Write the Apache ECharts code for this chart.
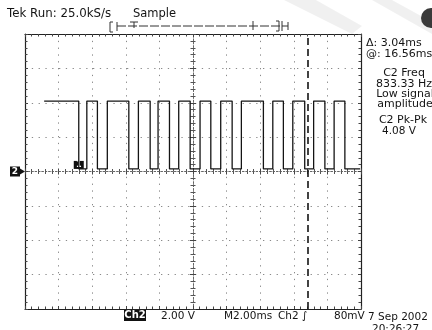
<!DOCTYPE html>
<html>
<head>
<meta charset="utf-8">
<script src="https://cdn.jsdelivr.net/npm/echarts@6/dist/echarts.min.js"></script>
<style>
  html, body { margin: 0; padding: 0; background: #fff; }
  #c { width: 432px; height: 330px; }
</style>
</head>
<body>
<div id="c"></div>
<script>
// Channel 2 trace: times in ms relative to the screen centre, levels in volts
const fallTimes = [-6.80, -5.69, -3.82, -2.55, -1.40, -0.17, 1.06, 2.33, 4.19, 5.38, 6.65, 7.85, 9.04];
const riseTimes = [-6.32, -5.10, -3.25, -2.08, -0.85, 0.42, 1.65, 2.88, 4.75, 5.94, 7.18, 8.40];
const traceStart = -8.86;
const traceEnd = 9.95;
const highVolts = 4.10;
const lowVolts = 0.15;
const cursorTime = 6.85;

// Screen: 10 horizontal divisions of 2 ms, 8 vertical divisions of 2 V
const timeRange = [-10, 10];
const voltRange = [-8, 8];
const timePerDiv = 2;
const voltsPerDiv = 2;

// Readouts
const headerLeft = 'Tek Run: 25.0kS/s';
const headerMode = 'Sample';
const cursorReadouts = ['Δ: 3.04ms', '@: 16.56ms'];
const measureLines = ['C2 Freq', '833.33 Hz', 'Low signal', 'amplitude'];
const pkpkLines = ['C2 Pk-Pk', '4.08 V'];
const footer = { ch: 'Ch2', scale: '2.00 V', time: 'M2.00ms', trig: 'Ch2 ∫', level: '80mV', date: '7 Sep 2002', clock: '20:26:27' };

// Build the stepped trace from the edge times
const trace = [[traceStart, highVolts]];
fallTimes.forEach((tf, i) => {
  trace.push([tf, highVolts], [tf, lowVolts]);
  if (i < riseTimes.length) trace.push([riseTimes[i], lowVolts], [riseTimes[i], highVolts]);
});
trace.push([traceEnd, lowVolts]);

const ink = '#141414';
const FONT = '"DejaVu Sans", sans-serif';

function baseAxis(range, step) {
  return { type: 'value', min: range[0], max: range[1], interval: step, axisLabel: { show: false }, splitLine: { show: false } };
}
function borderAxis(range, step, pos, withGrid) {
  return Object.assign(baseAxis(range, step), {
    position: pos,
    axisLine: { show: true, onZero: false, lineStyle: { color: '#222', width: 1.2 } },
    axisTick: { show: true, inside: true, length: 3, lineStyle: { color: '#444' } },
    minorTick: { show: true, splitNumber: 5, length: 2.5, lineStyle: { color: '#444' } },
    splitLine: { show: withGrid, lineStyle: { color: '#8a8a8a', width: 1, type: [1.3, 5.5] } }
  });
}
function centreAxis(range, step, pos) {
  return Object.assign(baseAxis(range, step), {
    position: pos,
    axisLine: { show: true, onZero: true, onZeroAxisIndex: 0, lineStyle: { color: '#666', width: 1, type: [1.3, 2.1] } },
    axisTick: { show: true, inside: true, length: 3, lineStyle: { color: '#444' } },
    minorTick: { show: true, splitNumber: 5, length: 2.5, lineStyle: { color: '#555' } }
  });
}

const chart = echarts.init(document.getElementById('c'), null, { renderer: 'canvas' });

chart.setOption({
  animation: false,
  backgroundColor: '#fff',
  grid: { left: 25, right: 71, top: 34, bottom: 21 },
  xAxis: [
    borderAxis(timeRange, timePerDiv, 'bottom', true),
    borderAxis(timeRange, timePerDiv, 'top', false),
    centreAxis(timeRange, timePerDiv, 'bottom'),
    centreAxis(timeRange, timePerDiv, 'top')
  ],
  yAxis: [
    borderAxis(voltRange, voltsPerDiv, 'left', true),
    borderAxis(voltRange, voltsPerDiv, 'right', false),
    centreAxis(voltRange, voltsPerDiv, 'left'),
    centreAxis(voltRange, voltsPerDiv, 'right')
  ],
  series: [{
    type: 'line',
    xAxisIndex: 0,
    yAxisIndex: 0,
    data: trace,
    symbol: 'none',
    lineStyle: { color: ink, width: 1.3 },
    markLine: {
      silent: true,
      symbol: 'none',
      label: { show: false },
      lineStyle: { color: ink, width: 1.6, type: [7, 4] },
      data: [{ xAxis: cursorTime }]
    }
  }]
});

function txt(text, x, y, size, opts) {
  return {
    type: 'text', silent: true,
    style: Object.assign({ text: text, x: x, y: y, font: size + 'px ' + FONT, fill: ink, align: 'left', verticalAlign: 'middle' }, opts || {})
  };
}
function seg(x1, y1, x2, y2, w, dash) {
  return { type: 'line', silent: true, shape: { x1: x1, y1: y1, x2: x2, y2: y2 }, style: { stroke: '#333', lineWidth: w || 1, lineDash: dash || null } };
}

const gnd = chart.convertToPixel({ gridIndex: 0 }, [timeRange[0], 0]);
const refMark = chart.convertToPixel({ gridIndex: 0 }, [fallTimes[0], lowVolts]);

const elements = [
  // soft glare across the top right
  { type: 'polygon', silent: true, z: -1, shape: { points: [[284, 0], [316, 0], [362, 26], [352, 34]] }, style: { fill: 'rgba(0,0,0,0.06)' } },
  { type: 'polygon', silent: true, z: -1, shape: { points: [[372, 0], [392, 0], [432, 22], [432, 34]] }, style: { fill: 'rgba(0,0,0,0.06)' } },
  { type: 'circle', silent: true, shape: { cx: 431, cy: 18, r: 10 }, style: { fill: '#3a3a3a' } },

  // header
  txt(headerLeft, 7, 14, 11.8),
  txt(headerMode, 133, 14, 11.5),

  // record-view bar
  { type: 'polyline', silent: true, shape: { points: [[113, 22], [110, 22], [110, 32], [113, 32]] }, style: { stroke: '#333', lineWidth: 1, fill: null } },
  seg(117, 22, 117, 31),
  seg(117, 26, 288, 26, 1, [9, 2]),
  seg(130, 22, 138, 22),
  seg(134, 22, 134, 28),
  seg(253, 21, 253, 30),
  { type: 'polyline', silent: true, shape: { points: [[276, 21], [279, 21], [279, 31], [276, 31]] }, style: { stroke: '#333', lineWidth: 1, fill: null } },
  seg(282, 21, 282, 31),
  seg(288, 22, 288, 30),

  // cursor readouts and measurements
  txt(cursorReadouts[0], 366, 43, 11),
  txt(cursorReadouts[1], 366, 54, 11),
  txt(measureLines[0], 404, 73, 11, { align: 'center' }),
  txt(measureLines[1], 404, 84, 11, { align: 'center' }),
  txt(measureLines[2], 405, 94, 11, { align: 'center' }),
  txt(measureLines[3], 405, 104, 11, { align: 'center' }),
  txt(pkpkLines[0], 403, 120, 11, { align: 'center' }),
  txt(pkpkLines[1], 399, 131, 10.5, { align: 'center' }),

  // ground marker for channel 2
  { type: 'rect', silent: true, shape: { x: 10, y: gnd[1] - 5, width: 10, height: 10 }, style: { fill: '#111' } },
  txt('2', 15, gnd[1], 9, { align: 'center', fill: '#fff', font: 'bold 9px ' + FONT }),
  { type: 'polygon', silent: true, shape: { points: [[20, gnd[1] - 3], [25, gnd[1]], [20, gnd[1] + 3]] }, style: { fill: '#111' } },

  // reference marker
  { type: 'rect', silent: true, shape: { x: refMark[0] - 5, y: refMark[1] - 8, width: 10, height: 8 }, style: { fill: '#111' } },
  txt('1', refMark[0], refMark[1] - 4, 8, { align: 'center', fill: '#fff', font: 'bold 8px ' + FONT }),

  // footer
  { type: 'rect', silent: true, shape: { x: 124, y: 309, width: 22, height: 12 }, style: { fill: '#111' } },
  txt(footer.ch, 135, 315.5, 10, { align: 'center', fill: '#fff', font: 'bold 10px ' + FONT }),
  txt(footer.scale, 161, 316, 10.5),
  txt(footer.time, 224, 316, 10.5),
  txt(footer.trig, 278, 316, 10.5),
  txt(footer.level, 334, 316, 10.5),
  txt(footer.date, 368, 317, 10.5),
  txt(footer.clock, 372, 329, 10.5)
];

chart.setOption({ graphic: { elements: elements } });
</script>
</body>
</html>
